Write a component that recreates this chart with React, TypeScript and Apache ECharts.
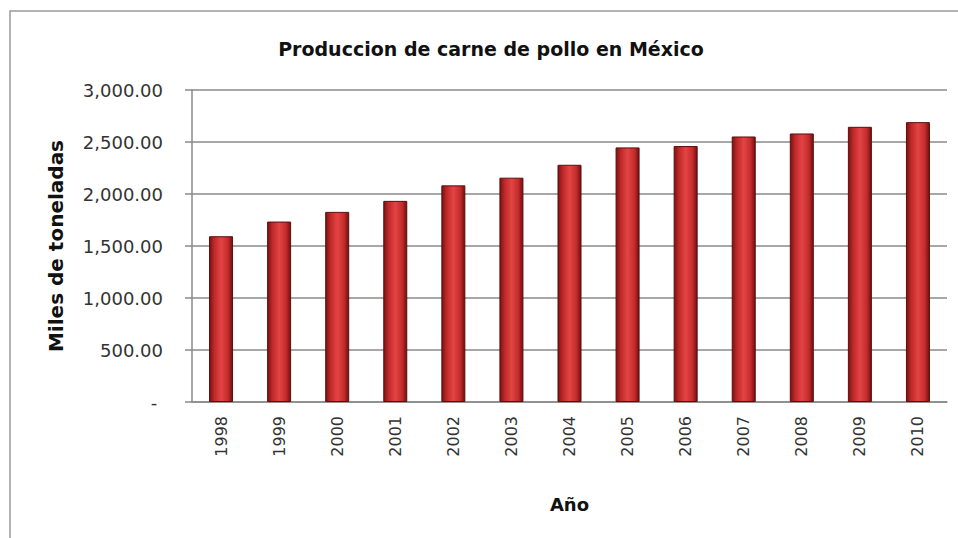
import React, { useEffect, useRef } from "react";
import * as echarts from "echarts";

const years = ["1998", "1999", "2000", "2001", "2002", "2003", "2004", "2005", "2006", "2007", "2008", "2009", "2010"];
const production = [1594, 1735, 1828, 1934, 2083, 2157, 2281, 2448, 2461, 2553, 2582, 2646, 2691];
const chartTitle = "Produccion de carne de pollo en México";
const yAxisTitle = "Miles de toneladas";
const xAxisTitle = "Año";

const FONT = "DejaVu Sans";

export default function App() {
  const ref = useRef<HTMLDivElement>(null);
  useEffect(() => {
    if (!ref.current) return;
    const chart = echarts.init(ref.current, undefined, { renderer: "svg" });
    const barColor = new echarts.graphic.LinearGradient(0, 0, 1, 0, [
      { offset: 0, color: "#7a1212" },
      { offset: 0.2, color: "#bd2828" },
      { offset: 0.5, color: "#e34444" },
      { offset: 0.8, color: "#c42c2c" },
      { offset: 1, color: "#6e1010" },
    ]);
    chart.setOption({
      animation: false,
      backgroundColor: "#ffffff",
      title: {
        text: chartTitle,
        left: 486,
        textAlign: "center",
        top: 34,
        textStyle: { fontFamily: FONT, fontSize: 19, fontWeight: "bold", color: "#111" },
      },
      graphic: [
        {
          type: "rect",
          shape: { x: 10, y: 11, width: 1000, height: 600 },
          style: { fill: "none", stroke: "#9a9a9a", lineWidth: 1.5 },
          silent: true,
        },
      ],
      grid: { left: 192, right: 11, top: 90, bottom: 136 },
      xAxis: {
        type: "category",
        data: years,
        axisTick: { show: false },
        axisLine: { lineStyle: { color: "#8a8a8a", width: 1.5 } },
        axisLabel: { rotate: 90, margin: 14, fontSize: 16, fontFamily: FONT, color: "#333" },
        name: xAxisTitle,
        nameLocation: "middle",
        nameGap: 93,
        nameTextStyle: { fontFamily: FONT, fontSize: 18, fontWeight: "bold", color: "#111" },
      },
      yAxis: {
        type: "value",
        min: 0,
        max: 3000,
        interval: 500,
        axisLine: { show: true, lineStyle: { color: "#8a8a8a", width: 1.5 } },
        axisTick: { show: true, length: 7, lineStyle: { color: "#8a8a8a", width: 1.5 } },
        splitLine: { lineStyle: { color: "#8a8a8a", width: 1.5 } },
        axisLabel: {
          margin: 29,
          fontSize: 18,
          fontFamily: FONT,
          color: "#333",
          formatter: (v: number) =>
            v === 0
              ? "- "
              : v.toLocaleString("en-US", { minimumFractionDigits: 2, maximumFractionDigits: 2 }),
        },
        name: yAxisTitle,
        nameLocation: "middle",
        nameRotate: 90,
        nameGap: 126,
        nameTextStyle: { fontFamily: FONT, fontSize: 20, fontWeight: "bold", color: "#111" },
      },
      series: [
        {
          type: "bar",
          data: production,
          barWidth: 24,
          itemStyle: { color: barColor, borderColor: "#5e0d0d", borderWidth: 1 },
        },
      ],
    });
    return () => chart.dispose();
  }, []);
  return (
    <div
      ref={ref}
      style={{ position: "fixed", left: 0, top: 0, width: 958, height: 538 }}
    />
  );
}
